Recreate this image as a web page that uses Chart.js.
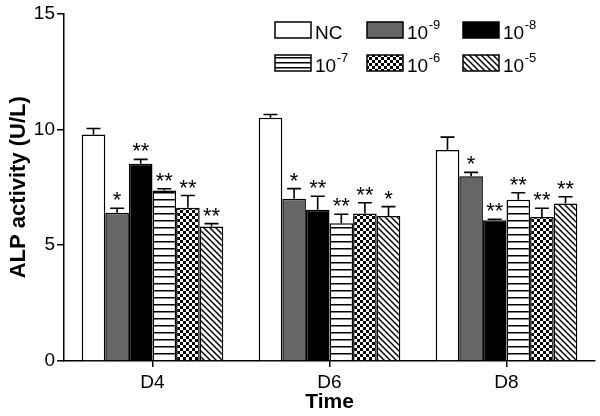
<!DOCTYPE html>
<html><head><meta charset="utf-8">
<script src="https://cdn.jsdelivr.net/npm/chart.js@4/dist/chart.umd.min.js"></script>
<style>html,body{margin:0;padding:0;background:#fff}#wrap{width:600px;height:416px}</style>
</head><body><div id="wrap"><canvas id="c" width="600" height="416"></canvas></div>
<script>
// ---- data ----
const categories = ['D4', 'D6', 'D8'];
const seriesLabels = ['NC', '10^-9', '10^-8', '10^-7', '10^-6', '10^-5'];
const yTicks = [0, 5, 10, 15];

const ncValues  = [9.77, 10.50, 9.11];
const ncErrors  = [0.26, 0.14, 0.55];
const ncSig     = ['', '', ''];

const e9Values  = [6.40, 7.00, 7.97];
const e9Errors  = [0.19, 0.44, 0.17];
const e9Sig     = ['*', '*', '*'];

const e8Values  = [8.51, 6.53, 6.07];
const e8Errors  = [0.19, 0.58, 0.05];
const e8Sig     = ['**', '**', '**'];

const e7Values  = [7.36, 5.94, 6.96];
const e7Errors  = [0.07, 0.39, 0.30];
const e7Sig     = ['**', '**', '**'];

const e6Values  = [6.61, 6.37, 6.21];
const e6Errors  = [0.53, 0.46, 0.38];
const e6Sig     = ['**', '**', '**'];

const e5Values  = [5.80, 6.26, 6.80];
const e5Errors  = [0.13, 0.40, 0.29];
const e5Sig     = ['**', '*', '**'];

const allValues = [ncValues, e9Values, e8Values, e7Values, e6Values, e5Values];
const allErrors = [ncErrors, e9Errors, e8Errors, e7Errors, e6Errors, e5Errors];
const allSig    = [ncSig, e9Sig, e8Sig, e7Sig, e6Sig, e5Sig];

// ---- patterns ----
const FONT = "'Liberation Sans', Arial, sans-serif";
function tile(w, h, draw) {
  const c = document.createElement('canvas');
  c.width = w; c.height = h;
  const g = c.getContext('2d');
  g.fillStyle = '#fff'; g.fillRect(0, 0, w, h);
  draw(g, w, h);
  return document.getElementById('c').getContext('2d').createPattern(c, 'repeat');
}
function hLines(step) {
  return tile(step, step, (g, w) => { g.fillStyle = '#000'; g.fillRect(0, Math.floor(step / 2), w, 1.5); });
}
function diag(step) {
  return tile(step, step, (g, w, h) => {
    g.strokeStyle = '#000'; g.lineWidth = 1.5;
    g.beginPath();
    g.moveTo(-1, -1); g.lineTo(w + 1, h + 1);
    g.moveTo(-w - 1, -1); g.lineTo(1, h + 1);
    g.moveTo(w - 1, -1); g.lineTo(2 * w + 1, h + 1);
    g.stroke();
  });
}
function checker(cell) {
  return tile(cell * 2, cell * 2, (g) => {
    g.fillStyle = '#000';
    g.fillRect(0, 0, cell, cell); g.fillRect(cell, cell, cell, cell);
  });
}
const barFills = ['#ffffff', '#666666', '#000000', hLines(7), checker(3), diag(6)];
const legendFills = ['#ffffff', '#666666', '#000000', hLines(5), checker(3), diag(6)];

// ---- plugins ----
const errorBarPlugin = {
  id: 'errorBars',
  afterDatasetsDraw(chart) {
    const ctx = chart.ctx;
    const ys = chart.scales.y;
    ctx.save();
    chart.data.datasets.forEach((ds, i) => {
      const meta = chart.getDatasetMeta(i);
      meta.data.forEach((el, j) => {
        const v = ds.data[j];
        const e = allErrors[i][j];
        const yTop = ys.getPixelForValue(v);
        const yErr = ys.getPixelForValue(v + e);
        const x = el.x;
        ctx.strokeStyle = '#000';
        ctx.lineWidth = 1.6;
        ctx.beginPath();
        ctx.moveTo(x, yTop); ctx.lineTo(x, yErr);
        ctx.moveTo(x - 7, yErr); ctx.lineTo(x + 7, yErr);
        ctx.stroke();
        const s = allSig[i][j];
        if (s) {
          ctx.fillStyle = '#000';
          ctx.font = '22px ' + FONT;
          ctx.textAlign = 'center';
          ctx.textBaseline = 'alphabetic';
          ctx.fillText(s, x, yErr - 1);
        }
      });
    });
    ctx.restore();
  }
};

const legendPlugin = {
  id: 'gridLegend',
  afterDraw(chart) {
    const ctx = chart.ctx;
    const cols = [275, 367, 463];
    const rows = [22, 55];
    ctx.save();
    seriesLabels.forEach((lab, k) => {
      const bx = cols[k % 3], by = rows[Math.floor(k / 3)];
      ctx.fillStyle = legendFills[k];
      ctx.fillRect(bx, by, 36, 16);
      ctx.strokeStyle = '#000'; ctx.lineWidth = 1.5;
      ctx.strokeRect(bx, by, 36, 16);
      const parts = lab.split('^');
      ctx.fillStyle = '#000';
      ctx.textAlign = 'left';
      ctx.textBaseline = 'alphabetic';
      ctx.font = '19px ' + FONT;
      let tx = bx + 40;
      ctx.fillText(parts[0], tx, by + 16.5);
      if (parts[1]) {
        tx += ctx.measureText(parts[0]).width + 0.5;
        ctx.font = '13px ' + FONT;
        ctx.fillText(parts[1], tx, by + 6.5);
      }
    });
    ctx.restore();
  }
};

// ---- chart ----
new Chart(document.getElementById('c'), {
  type: 'bar',
  data: {
    labels: categories,
    datasets: seriesLabels.map((lab, i) => ({
      label: lab,
      data: allValues[i],
      backgroundColor: barFills[i],
      borderColor: '#000',
      borderWidth: 1.5,
      categoryPercentage: 0.8,
      barPercentage: 1.0
    }))
  },
  options: {
    responsive: false,
    animation: false,
    layout: { padding: { top: 11, right: 5, left: 0, bottom: 0 } },
    plugins: { legend: { display: false }, tooltip: { enabled: false } },
    scales: {
      x: {
        grid: { display: true, drawOnChartArea: false, drawTicks: true, tickLength: 6, offset: false, color: '#000', lineWidth: 1.5 },
        border: { display: true, color: '#000', width: 1.5 },
        ticks: { color: '#000', font: { family: FONT, size: 19 }, padding: 4 },
        title: { display: true, text: 'Time', color: '#000', font: { family: FONT, size: 21, weight: 'bold', lineHeight: 1 }, padding: { top: 0, bottom: 3 } },
        afterFit(s) { s.height = 55; }
      },
      y: {
        min: 0, max: 15,
        afterBuildTicks(s) { s.ticks = yTicks.map(v => ({ value: v })); },
        grid: { display: true, drawOnChartArea: false, drawTicks: true, tickLength: 7, color: '#000', lineWidth: 1.5 },
        border: { display: true, color: '#000', width: 1.5 },
        ticks: { color: '#000', font: { family: FONT, size: 19 }, padding: 2 },
        title: { display: true, text: 'ALP activity (U/L)', color: '#000', font: { family: FONT, size: 22, weight: 'bold', lineHeight: 1 }, padding: { top: 8, bottom: 0 } },
        afterFit(s) { s.width = 64; }
      }
    }
  },
  plugins: [errorBarPlugin, legendPlugin]
});
</script>
</body></html>
